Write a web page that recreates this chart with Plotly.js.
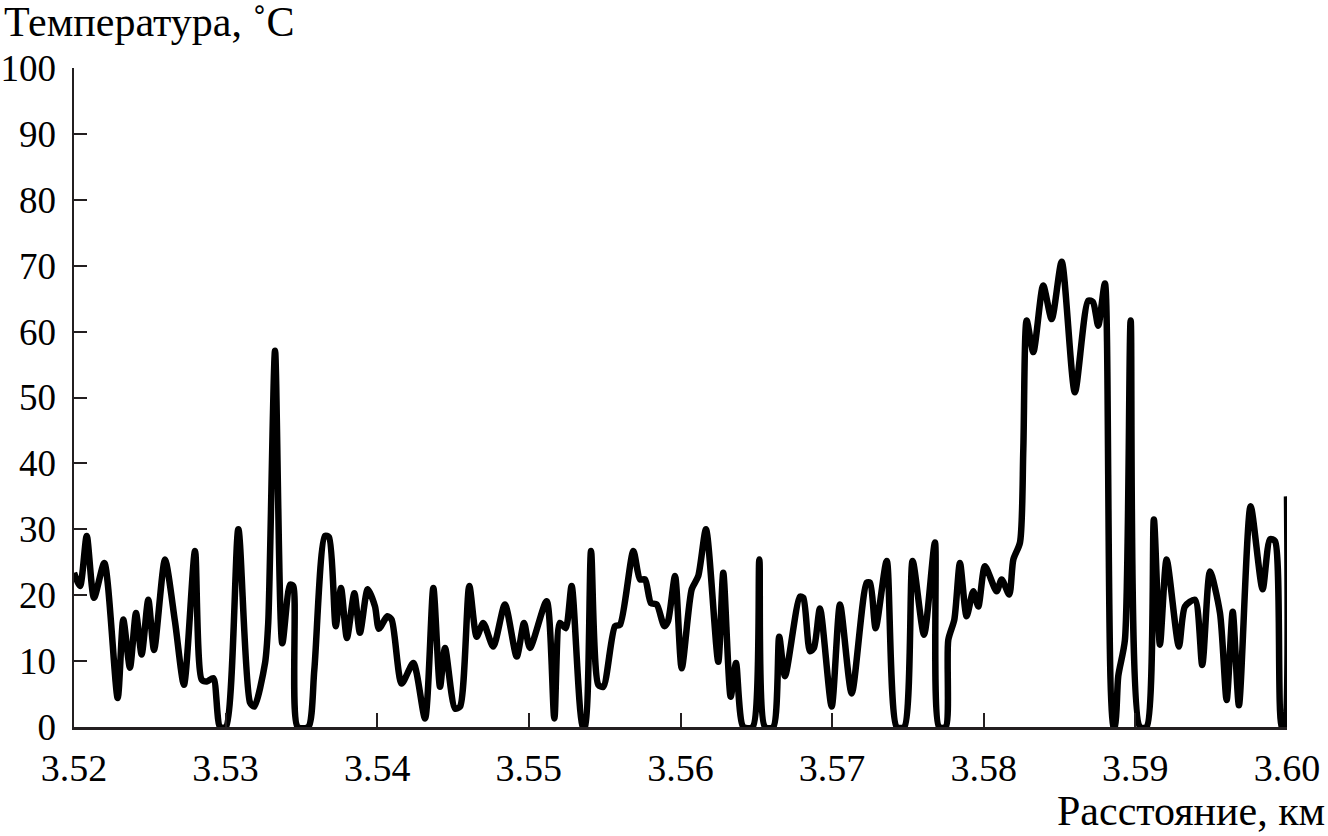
<!DOCTYPE html>
<html>
<head>
<meta charset="utf-8">
<script src="https://cdn.plot.ly/plotly-3.0.1.min.js"></script>
<style>
  html, body { margin: 0; padding: 0; background: #ffffff; }
  #chart { width: 1328px; height: 836px; }
</style>
</head>
<body>
<div id="chart"></div>
<script>
// Distance along the route, km
const distanceKm = [
  3.52000, 3.52040, 3.52084, 3.52132, 3.52200, 3.52288, 3.52325, 3.52369, 3.52409, 3.52446,
  3.52490, 3.52528, 3.52600, 3.52666, 3.52725, 3.52798, 3.52842, 3.52877, 3.52919, 3.52963,
  3.53002, 3.53084, 3.53161, 3.53189, 3.53260, 3.53281, 3.53326, 3.53374, 3.53425, 3.53446,
  3.53475, 3.53545, 3.53585, 3.53655, 3.53682, 3.53726, 3.53761, 3.53800, 3.53849, 3.53886,
  3.53937, 3.53985, 3.54011, 3.54066, 3.54095, 3.54161, 3.54238, 3.54315, 3.54370, 3.54414,
  3.54447, 3.54513, 3.54546, 3.54607, 3.54656, 3.54699, 3.54765, 3.54842, 3.54920, 3.54968,
  3.55007, 3.55117, 3.55168, 3.55205, 3.55243, 3.55282, 3.55355, 3.55370, 3.55410, 3.55458,
  3.55491, 3.55568, 3.55601, 3.55689, 3.55733, 3.55766, 3.55805, 3.55843, 3.55893, 3.55917,
  3.55964, 3.56008, 3.56074, 3.56117, 3.56168, 3.56249, 3.56282, 3.56331, 3.56366, 3.56414,
  3.56476, 3.56520, 3.56557, 3.56612, 3.56651, 3.56689, 3.56788, 3.56810, 3.56854, 3.56880,
  3.56920, 3.56997, 3.57052, 3.57129, 3.57228, 3.57250, 3.57287, 3.57360, 3.57426, 3.57476,
  3.57531, 3.57606, 3.57678, 3.57705, 3.57749, 3.57766, 3.57806, 3.57843, 3.57887, 3.57931,
  3.57964, 3.58008, 3.58085, 3.58118, 3.58168, 3.58195, 3.58239, 3.58261, 3.58283, 3.58327,
  3.58392, 3.58448, 3.58514, 3.58601, 3.58689, 3.58720, 3.58755, 3.58799, 3.58854, 3.58865,
  3.58887, 3.58931, 3.58969, 3.59030, 3.59074, 3.59122, 3.59162, 3.59206, 3.59287, 3.59327,
  3.59393, 3.59441, 3.59492, 3.59558, 3.59602, 3.59642, 3.59683, 3.59760, 3.59839, 3.59888,
  3.59921, 3.59965, 3.59980, 3.60000
];

// Temperature, °C
const temperatureC = [
  23.4, 21.4, 29.0, 19.6, 24.9, 4.4, 16.3, 9.0, 17.3, 11.0,
  19.3, 11.7, 25.4, 16.0, 6.4, 26.7, 7.2, 6.9, 7.4, 0,
  0, 30.0, 3.7, 3.1, 9.7, 15.8, 57.1, 12.7, 21.6, 21.4,
  0, 0, 8.7, 29.0, 28.8, 15.3, 21.1, 13.5, 20.3, 14.3,
  20.9, 18.3, 14.9, 16.8, 16.3, 6.6, 9.7, 1.3, 21.1, 6.1,
  12.0, 2.8, 3.1, 21.4, 13.7, 15.8, 12.2, 18.6, 10.7, 15.8,
  12.0, 19.1, 1.3, 15.8, 15.0, 21.4, 0, 0, 26.7, 6.4,
  6.1, 15.3, 15.5, 26.7, 22.4, 22.4, 18.8, 18.6, 15.3, 16.0,
  22.9, 8.9, 20.9, 22.9, 30.0, 9.9, 23.4, 4.6, 9.7, 0,
  0, 25.4, 0, 0, 13.7, 7.7, 19.8, 19.6, 11.5, 12.0,
  18.0, 3.1, 18.6, 5.1, 21.9, 21.9, 15.0, 25.2, 0, 0,
  25.2, 14.0, 28.0, 0, 0, 13.2, 16.3, 24.9, 16.8, 20.6,
  18.3, 24.4, 20.6, 22.4, 20.1, 25.4, 28.0, 42.2, 61.7, 56.9,
  67.0, 61.9, 70.6, 50.8, 64.7, 64.5, 60.9, 67.3, 0, 0,
  7.7, 13.2, 61.7, 0, 0, 31.5, 12.5, 25.4, 12.2, 18.3,
  19.3, 9.4, 23.6, 17.3, 4.1, 17.5, 3.3, 33.5, 20.9, 28.5,
  28.2, 0, 0, 35.0
];

const xTickVals = [3.52, 3.53, 3.54, 3.55, 3.56, 3.57, 3.58, 3.59, 3.60];
const xTickText = ['3.52', '3.53', '3.54', '3.55', '3.56', '3.57', '3.58', '3.59', '3.60'];
const yTickVals = [0, 10, 20, 30, 40, 50, 60, 70, 80, 90, 100];
const yTitleText = 'Температура, ˚C';
const xTitleText = 'Расстояние, км';

const axisColor = '#231f20';
const fontFamily = '"Liberation Serif", "Times New Roman", serif';

const trace = {
  type: 'scatter',
  mode: 'lines',
  x: distanceKm,
  y: temperatureC,
  line: { color: '#000000', width: 6.5, shape: 'spline', smoothing: 0.7 },
  hoverinfo: 'x+y'
};

const layout = {
  width: 1328,
  height: 836,
  margin: { l: 74, r: 41, t: 68, b: 109, pad: 0 },
  paper_bgcolor: '#ffffff',
  plot_bgcolor: '#ffffff',
  showlegend: false,
  font: { family: fontFamily, size: 37, color: '#000000' },
  xaxis: {
    range: [3.52, 3.60],
    tickmode: 'array',
    tickvals: xTickVals,
    ticktext: xTickText,
    ticks: 'inside',
    ticklen: 14,
    tickwidth: 2,
    tickcolor: axisColor,
    showline: true,
    linecolor: axisColor,
    linewidth: 2.5,
    showgrid: false,
    zeroline: false,
    tickfont: { family: fontFamily, size: 38, color: '#000000' },
    ticklabelstandoff: 6
  },
  yaxis: {
    range: [0, 100],
    tickmode: 'array',
    tickvals: yTickVals,
    ticks: 'inside',
    ticklen: 13,
    tickwidth: 2,
    tickcolor: axisColor,
    showline: true,
    linecolor: axisColor,
    linewidth: 2.5,
    showgrid: false,
    zeroline: false,
    tickfont: { family: fontFamily, size: 37, color: '#000000' },
    ticklabelstandoff: 8
  },
  annotations: [
    {
      text: yTitleText,
      xref: 'paper', yref: 'paper',
      x: -0.0595, y: 1.07,
      xanchor: 'left', yanchor: 'middle',
      showarrow: false,
      font: { family: fontFamily, size: 42, color: '#000000' }
    },
    {
      text: xTitleText,
      xref: 'paper', yref: 'paper',
      x: 1.033, y: -0.128,
      xanchor: 'right', yanchor: 'middle',
      showarrow: false,
      font: { family: fontFamily, size: 42, color: '#000000' }
    }
  ]
};

Plotly.newPlot('chart', [trace], layout, { displayModeBar: false, staticPlot: true });
</script>
</body>
</html>
